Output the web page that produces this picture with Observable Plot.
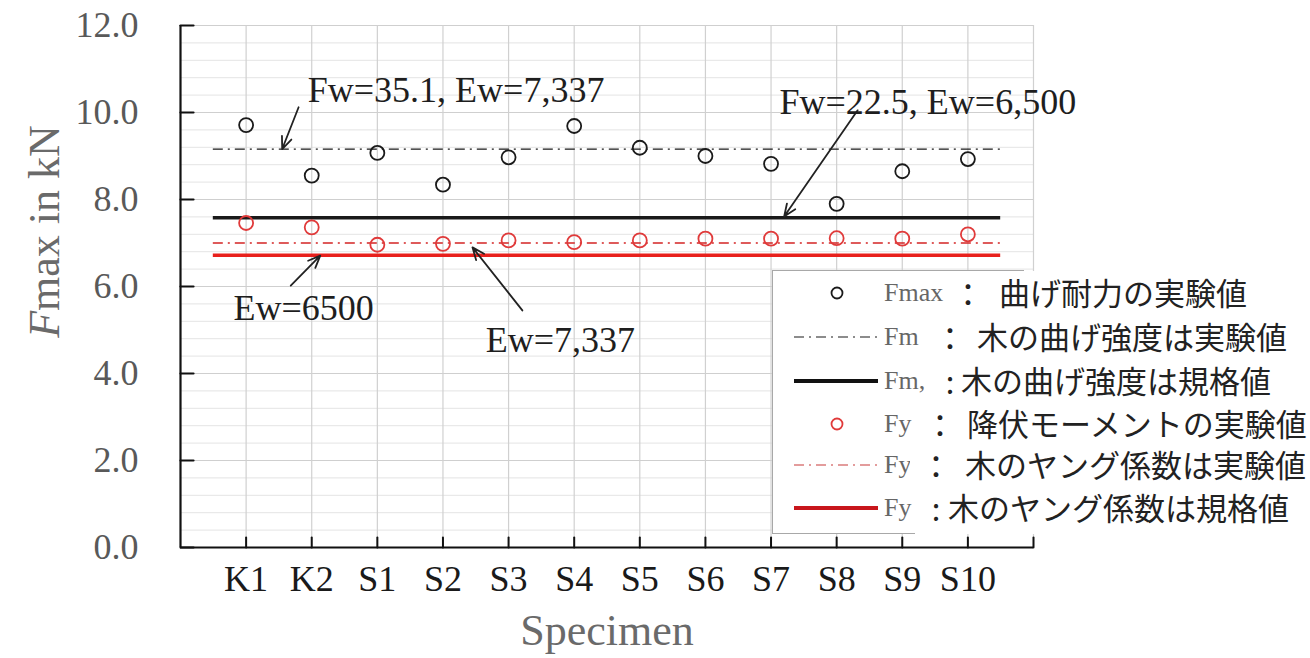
<!DOCTYPE html>
<html>
<head>
<meta charset="utf-8">
<script src="https://cdn.jsdelivr.net/npm/d3@7"></script>
<script src="https://cdn.jsdelivr.net/npm/@observablehq/plot@0.6"></script>
<style>
  body { margin: 0; background: white; }
  #wrap { position: relative; width: 1310px; height: 658px; overflow: hidden; }
  #wrap svg { position: absolute; left: 0; top: 0; }
  .abs { position: absolute; white-space: nowrap; }
</style>
</head>
<body>
<div id="wrap"></div>
<script>
// ---- data ----
const specimens = ["K1", "K2", "S1", "S2", "S3", "S4", "S5", "S6", "S7", "S8", "S9", "S10"];
const fmaxValues = [9.71, 8.55, 9.07, 8.34, 8.97, 9.69, 9.19, 9.00, 8.82, 7.90, 8.65, 8.93];
const fyValues = [7.46, 7.36, 6.96, 6.98, 7.06, 7.02, 7.06, 7.10, 7.10, 7.11, 7.10, 7.20];
const fmExperimental = 9.16;   // Fm : wood bending strength, experimental
const fmStandard = 7.58;       // Fm, : wood bending strength, standard
const fyExperimental = 7.00;   // Fy : Young's modulus, experimental
const fyStandard = 6.72;       // Fy : Young's modulus, standard
const lineSpan = [0.5, 12.5];
const yTicks = [0, 2, 4, 6, 8, 10, 12];
const xTickPositions = [1, 2, 3, 4, 5, 6, 7, 8, 9, 10, 11, 12, 13];
const annotationLabels = ["Fw=35.1, Ew=7,337", "Fw=22.5, Ew=6,500", "Ew=6500", "Ew=7,337"];
const annotationTextX = [4.2, 11.39, 1.875, 5.79];
const annotationTextY = [10.5, 10.24, 5.49, 4.76];
const arrowFromX = [1.80, 10.32, 1.68, 5.21];
const arrowFromY = [10.12, 10.05, 6.02, 5.45];
const arrowToX = [1.55, 9.20, 2.13, 4.45];
const arrowToY = [9.16, 7.61, 6.71, 6.90];
const legendKeys = ["Fmax", "Fm", "Fm,", "Fy", "Fy", "Fy"];
const legendColons = ["：", "：", ":", "：", "：", ":"];
const legendDescriptions = ["曲げ耐力の実験値", "木の曲げ強度は実験値", "木の曲げ強度は規格値", "降伏モーメントの実験値", "木のヤング係数は実験値", "木のヤング係数は規格値"];
const yTitle = "Fmax in kN";
const xTitle = "Specimen";

// ---- derived tables ----
const points = specimens.map((s, i) => ({s, x: i + 1, fmax: fmaxValues[i], fy: fyValues[i]}));
const annotations = annotationLabels.map((t, i) => ({t, x: annotationTextX[i], y: annotationTextY[i]}));
const arrows = arrowFromX.map((_, i) => ({x1: arrowFromX[i], y1: arrowFromY[i], x2: arrowToX[i], y2: arrowToY[i]}));
const minorGrid = d3.range(0, 31).map(k => k * 0.4);
const tickShape = {draw(ctx, l) { ctx.moveTo(0, 0); ctx.lineTo(0, -l); }};

const serif = "'Liberation Serif', 'Times New Roman', serif";
const blackC = "#1a1a1a", redC = "#e8201c";

const chart = Plot.plot({
  width: 1310, height: 658,
  marginLeft: 180, marginRight: 277, marginTop: 25, marginBottom: 111,
  x: {domain: [0, 13], axis: null},
  y: {domain: [0, 12], axis: null},
  style: {fontFamily: serif, background: "transparent", overflow: "visible"},
  marks: [
    Plot.ruleY(minorGrid, {stroke: "#e4e4e4", strokeWidth: 1}),
    Plot.ruleY(yTicks, {stroke: "#cfcfcf", strokeWidth: 1}),
    Plot.ruleX(xTickPositions, {stroke: "#d0d0d0", strokeWidth: 1.2}),
    // reference lines
    Plot.ruleY([fmExperimental], {x1: lineSpan[0], x2: lineSpan[1], stroke: blackC, strokeWidth: 1.3, strokeDasharray: "10,5,2,5"}),
    Plot.ruleY([fmStandard], {x1: lineSpan[0], x2: lineSpan[1], stroke: blackC, strokeWidth: 3.5}),
    Plot.ruleY([fyExperimental], {x1: lineSpan[0], x2: lineSpan[1], stroke: "#d42424", strokeWidth: 1.4, strokeDasharray: "10,5,2,5"}),
    Plot.ruleY([fyStandard], {x1: lineSpan[0], x2: lineSpan[1], stroke: redC, strokeWidth: 3.5}),
    // points
    Plot.dot(points, {x: "x", y: "fmax", r: 7, stroke: blackC, strokeWidth: 1.8, fill: "none"}),
    Plot.dot(points, {x: "x", y: "fy", r: 7, stroke: "#e03a3a", strokeWidth: 1.8, fill: "none"}),
    // axes
    Plot.ruleX([0], {stroke: "#111", strokeWidth: 2.2}),
    Plot.ruleY([0], {stroke: "#111", strokeWidth: 2.2}),
    Plot.vector(yTicks, {x: 0, y: d => d, length: 13, rotate: 90, anchor: "start", shape: tickShape, stroke: "#111", strokeWidth: 2.2}),
    Plot.vector(xTickPositions, {x: d => d, y: 0, length: 10, rotate: 0, anchor: "start", shape: tickShape, stroke: "#111", strokeWidth: 2}),
    Plot.text(yTicks, {x: 0, y: d => d, text: d => d.toFixed(1), textAnchor: "end", dx: -42, fontSize: 36, fill: "#595959"}),
    Plot.text(points, {x: "x", y: 0, text: "s", lineAnchor: "top", dy: 18, fontSize: 36, fill: "#1a1a1a"}),
    Plot.text([yTitle], {frameAnchor: "left", textAnchor: "middle", dx: -136, dy: -55, rotate: -90, fontSize: 44, fill: "#6a6a6a"}),
    Plot.text([xTitle], {frameAnchor: "bottom", dy: 97, fontSize: 44, fill: "#6a6a6a"}),
    // annotations
    Plot.arrow(arrows, {x1: "x1", y1: "y1", x2: "x2", y2: "y2", stroke: "#222", strokeWidth: 1.8, headLength: 11, headAngle: 45}),
    Plot.text(annotations, {x: "x", y: "y", text: "t", fontSize: 36, fill: "#1e1e1e"})
  ]
});

// italic F in the y title
d3.select(chart).selectAll("text").filter(function() { return this.textContent === yTitle; })
  .each(function() {
    const t = d3.select(this);
    t.text(null);
    t.append("tspan").attr("font-style", "italic").text(yTitle.slice(0, 1));
    t.append("tspan").text(yTitle.slice(1));
  });

const wrap = document.getElementById("wrap");
wrap.appendChild(chart);

// ---- legend (overlaid inside plot area) ----
const rowY = [293, 337, 381, 424, 465, 508];
const rowBounds = [271, 315, 359, 402, 444, 486, 534];
const patchLeft = [948, 948, 927, 929, 910, 915];
const colonCenter = [968, 950, 950, 940, 936, 936];
const descLeft = [999, 977, 961, 967, 965, 948];
const swatchKinds = ["dotBlack", "dashBlack", "solidBlack", "dotRed", "dashRed", "solidRed"];

function el(tag, style, text) {
  const e = document.createElement(tag);
  e.className = "abs";
  Object.assign(e.style, style);
  if (text != null) e.textContent = text;
  wrap.appendChild(e);
  return e;
}
el("div", {left: "772px", top: "270px", width: "250px", height: "262px", border: "1.5px solid #a8a8a8", background: "white"});

const ns = "http://www.w3.org/2000/svg";
swatchKinds.forEach((kind, i) => {
  const svg = document.createElementNS(ns, "svg");
  svg.setAttribute("width", 90); svg.setAttribute("height", 20);
  svg.setAttribute("class", "abs");
  svg.style.left = "790px"; svg.style.top = (rowY[i] - 10) + "px";
  const s = d3.select(svg);
  if (kind.startsWith("dot")) {
    s.append("circle").attr("cx", 47).attr("cy", 10).attr("r", 5.5).attr("fill", "none")
      .attr("stroke", kind === "dotRed" ? "#e03a3a" : blackC).attr("stroke-width", 1.8);
  } else {
    const line = s.append("line").attr("x1", 4).attr("x2", 88).attr("y1", 10).attr("y2", 10);
    const red = kind.endsWith("Red");
    if (kind.startsWith("dash")) {
      line.attr("stroke", red ? "#c83a3a" : blackC).attr("stroke-width", 1.2).attr("stroke-dasharray", "10,5,2,5");
    } else {
      line.attr("stroke", red ? "#c8161c" : "#111").attr("stroke-width", 4);
    }
  }
  wrap.appendChild(svg);
  el("div", {left: "884px", top: (rowY[i] - 16) + "px", font: "26px " + serif, color: "#666", lineHeight: "32px"}, legendKeys[i]);
});
legendDescriptions.forEach((d, i) => {
  el("div", {left: patchLeft[i] + "px", top: rowBounds[i] + "px", width: (1310 - patchLeft[i]) + "px",
    height: (rowBounds[i + 1] - rowBounds[i]) + "px", background: "white"});
  const cjk = "'Noto Sans CJK JP', 'Noto Sans', sans-serif";
  el("div", {left: (colonCenter[i] - 20) + "px", width: "40px", textAlign: "center", top: (rowY[i] - 20) + "px",
    font: "31px " + cjk, color: "#222", lineHeight: "40px"}, legendColons[i]);
  el("div", {left: descLeft[i] + "px", top: (rowY[i] - 21) + "px", font: "31px " + cjk, color: "#222", lineHeight: "40px"}, d);
});
</script>
</body>
</html>
